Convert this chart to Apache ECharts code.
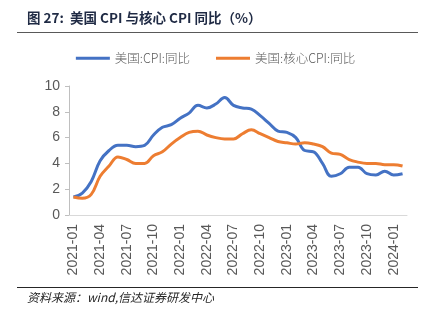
<!DOCTYPE html>
<html>
<head>
<meta charset="utf-8">
<script src="https://cdn.jsdelivr.net/npm/echarts@6/dist/echarts.min.js"></script>
<style>
  html, body { margin: 0; padding: 0; background: #fff; }
  #chart { width: 431px; height: 326px; }
</style>
</head>
<body>
<div id="chart"></div>
<script>
// Monthly categories, 2021-01 .. 2024-02
const months = [
  '2021-01','2021-02','2021-03','2021-04','2021-05','2021-06','2021-07','2021-08','2021-09','2021-10','2021-11','2021-12',
  '2022-01','2022-02','2022-03','2022-04','2022-05','2022-06','2022-07','2022-08','2022-09','2022-10','2022-11','2022-12',
  '2023-01','2023-02','2023-03','2023-04','2023-05','2023-06','2023-07','2023-08','2023-09','2023-10','2023-11','2023-12',
  '2024-01','2024-02'
];

// US CPI, year over year (%)
const cpiYoY = [
  1.4, 1.7, 2.6, 4.2, 5.0, 5.4, 5.4, 5.3, 5.4, 6.2, 6.8, 7.0,
  7.5, 7.9, 8.5, 8.3, 8.6, 9.1, 8.5, 8.3, 8.2, 7.7, 7.1, 6.5,
  6.4, 6.0, 5.0, 4.9, 4.0, 3.0, 3.2, 3.7, 3.7, 3.2, 3.1, 3.4,
  3.1, 3.2
];

// US core CPI, year over year (%)
const coreCpiYoY = [
  1.4, 1.3, 1.6, 3.0, 3.8, 4.5, 4.3, 4.0, 4.0, 4.6, 4.9, 5.5,
  6.0, 6.4, 6.5, 6.2, 6.0, 5.9, 5.9, 6.3, 6.6, 6.3, 6.0, 5.7,
  5.6, 5.5, 5.6, 5.5, 5.3, 4.8, 4.7, 4.3, 4.1, 4.0, 4.0, 3.9,
  3.9, 3.8
];

const seriesNames = ['美国:CPI:同比', '美国:核心CPI:同比'];
const yTicks = { min: 0, max: 10, interval: 2 };

const chart = echarts.init(document.getElementById('chart'), null, { renderer: 'canvas' });

chart.setOption({
  animation: false,
  backgroundColor: '#ffffff',
  grid: { left: 69, right: 24, top: 86, bottom: 111 },
  legend: {
    top: 47,
    left: 'center',
    itemGap: 26,
    itemWidth: 34,
    itemHeight: 3,
    icon: 'rect',
    textStyle: { color: '#595959', fontSize: 12.5, fontFamily: 'Noto Sans CJK SC', fontWeight: 300 },
    data: seriesNames
  },
  xAxis: {
    type: 'category',
    data: months,
    boundaryGap: true,
    axisLine: { lineStyle: { color: '#d9d9d9', width: 1 } },
    axisTick: { show: false },
    axisLabel: {
      interval: 2,
      rotate: 90,
      color: '#595959',
      fontSize: 14,
      fontFamily: 'Liberation Sans',
      margin: 9
    }
  },
  yAxis: {
    type: 'value',
    min: yTicks.min,
    max: yTicks.max,
    interval: yTicks.interval,
    splitLine: { show: false },
    axisLine: { show: true, lineStyle: { color: '#bfbfbf', width: 1 } },
    axisTick: { show: true, length: 4, lineStyle: { color: '#bfbfbf' } },
    axisLabel: { color: '#595959', fontSize: 14, fontFamily: 'Liberation Sans', margin: 9 }
  },
  series: [
    {
      name: seriesNames[0],
      type: 'line',
      data: cpiYoY,
      smooth: 0.4,
      symbol: 'none',
      lineStyle: { color: '#4472C4', width: 3 },
      itemStyle: { color: '#4472C4' }
    },
    {
      name: seriesNames[1],
      type: 'line',
      data: coreCpiYoY,
      smooth: 0.4,
      symbol: 'none',
      lineStyle: { color: '#ED7D31', width: 3 },
      itemStyle: { color: '#ED7D31' }
    }
  ],
  graphic: [
    {
      type: 'text',
      left: 27,
      top: 11,
      style: {
        text: '图 27:  美国 CPI 与核心 CPI 同比（%）',
        fill: '#1f2a44',
        font: 'bold 13.5px "Noto Sans CJK SC"'
      }
    },
    {
      type: 'line',
      shape: { x1: 17, y1: 32.5, x2: 418, y2: 32.5 },
      style: { stroke: '#595959', lineWidth: 1 }
    },
    {
      type: 'line',
      shape: { x1: 17, y1: 287.5, x2: 418, y2: 287.5 },
      style: { stroke: '#262626', lineWidth: 1 }
    },
    {
      type: 'text',
      left: 27,
      top: 291,
      style: {
        text: '资料来源：wind,信达证券研发中心',
        fill: '#262626',
        font: 'italic 12px "Noto Sans CJK SC"'
      }
    }
  ]
});
</script>
</body>
</html>
